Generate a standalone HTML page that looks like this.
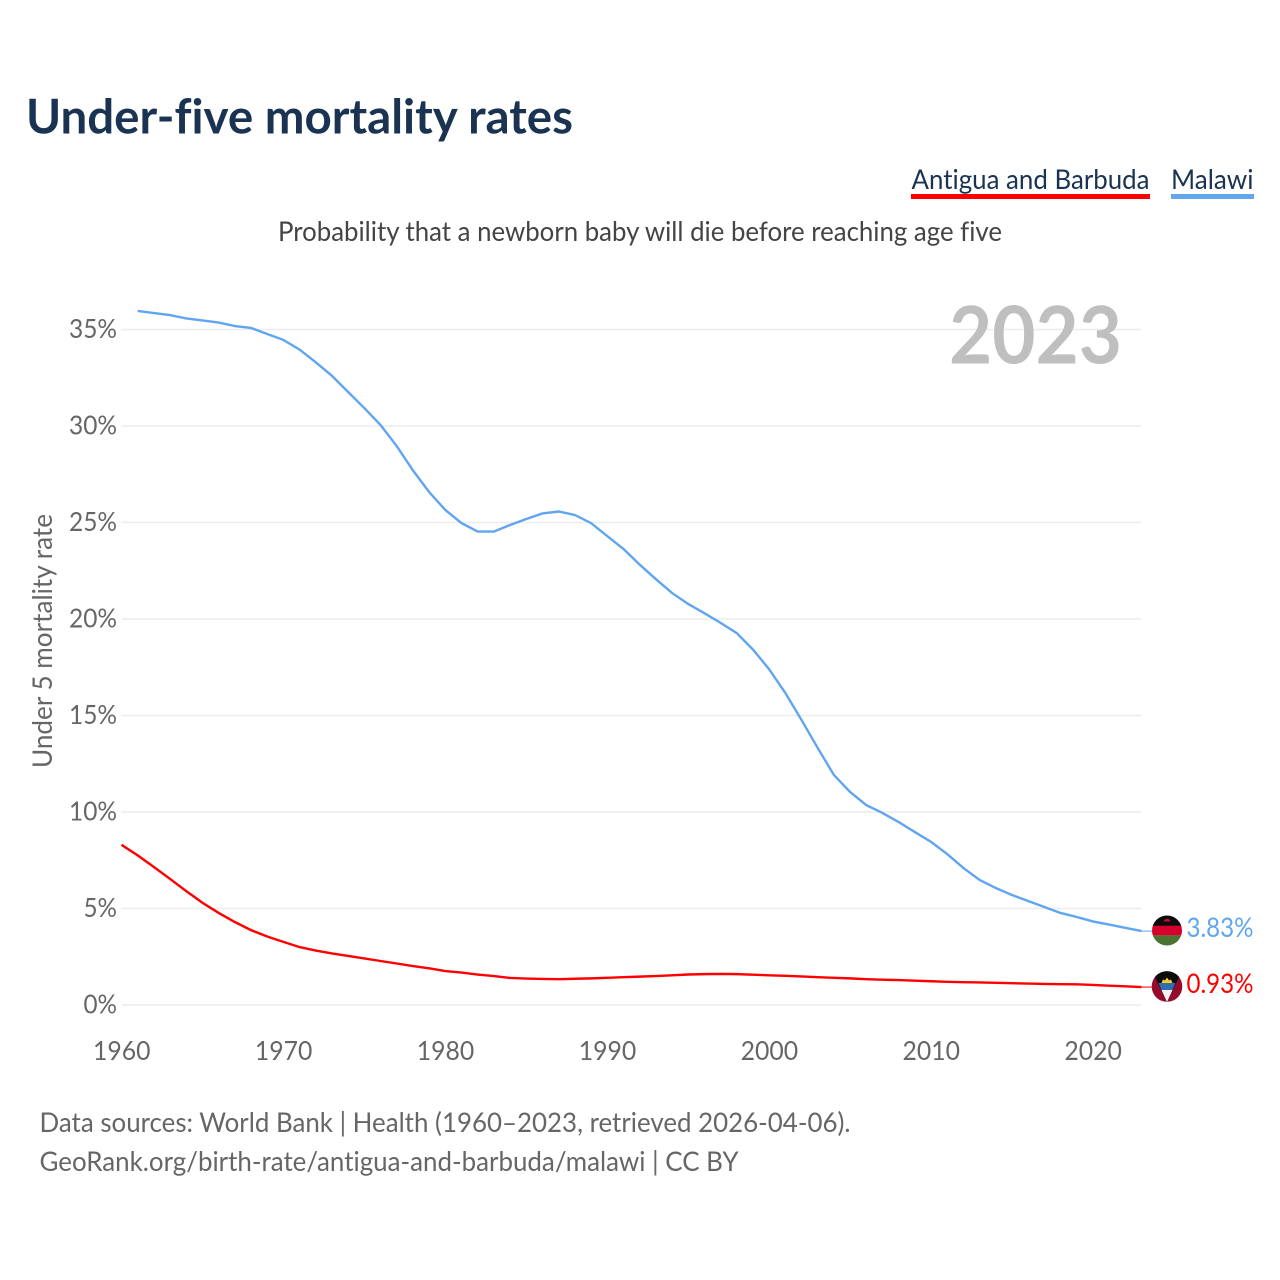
<!DOCTYPE html>
<html lang="en">
<head>
<meta charset="utf-8">
<title>Under-five mortality rates</title>
<style>
html,body{margin:0;padding:0;background:#fff;width:1280px;height:1280px;overflow:hidden}
svg{display:block}
text{font-family:"Lato","Carlito","Liberation Sans",sans-serif;font-variant-ligatures:none}
</style>
</head>
<body>
<svg id="chart" xmlns="http://www.w3.org/2000/svg" width="1280" height="1280" viewBox="0 0 1280 1280">
  <rect width="1280" height="1280" fill="#ffffff"/>
  <text x="26" y="133.500" font-size="48" font-weight="700" fill="#1a3352" textLength="547" lengthAdjust="spacingAndGlyphs">Under-five mortality rates</text>
  <g>
    <g>
      <text x="911.500" y="189" font-size="27.500" fill="#1a3352" textLength="238" lengthAdjust="spacingAndGlyphs">Antigua and Barbuda</text>
      <rect x="911" y="194" width="239" height="5" fill="#ff0000"/>
    </g>
    <g>
      <text x="1171" y="189" font-size="27.500" fill="#1a3352" textLength="82.500" lengthAdjust="spacingAndGlyphs">Malawi</text>
      <rect x="1171" y="194" width="83" height="5" fill="#63a6ec"/>
    </g>
  </g>
  <text x="278" y="241" font-size="27.500" fill="#444444" textLength="724" lengthAdjust="spacingAndGlyphs">Probability that a newborn baby will die before reaching age five</text>
  <g id="grid"></g>
  <g id="yticks"></g>
  <g id="xticks"></g>
  <text x="949" y="363.500" font-size="80" font-weight="700" fill="#bfbfbf" textLength="173" lengthAdjust="spacingAndGlyphs">2023</text>
  <text transform="translate(52,768) rotate(-90)" font-size="27" fill="#666666" textLength="254" lengthAdjust="spacingAndGlyphs">Under 5 mortality rate</text>
  <g id="series"></g>
  <defs>
    <clipPath id="clip-malawi"><circle cx="1167" cy="930.500" r="15"/></clipPath>
    <clipPath id="clip-antigua"><circle cx="1167" cy="986.500" r="15.300"/></clipPath>
  </defs>
  <g clip-path="url(#clip-malawi)">
    <rect x="1150" y="915" width="34" height="11" fill="#0c0c0c"/>
    <rect x="1150" y="925.700" width="34" height="9.700" fill="#d6002c"/>
    <rect x="1150" y="935.400" width="34" height="11" fill="#4b7231"/>
    <path d="M1164 921.500 a3.200 2.800 0 0 1 6.400 0z" fill="#c8102e"/>
  </g>
  <g clip-path="url(#clip-antigua)">
    <rect x="1150" y="970" width="34" height="34" fill="#960a2c"/>
    <path d="M1152 971 H1182 L1167 1002z" fill="#0c0c0c"/>
    <path d="M1158.500 983 H1175.500 L1172.500 990 H1161.500z" fill="#2f6db5"/>
    <path d="M1161.500 990 H1172.500 L1167 1002z" fill="#f2f2f2"/>
    <path d="M1161.500 983 L1163 979.500 L1165 980.500 L1167 977.500 L1169 980.500 L1171 979.500 L1172.500 983z" fill="#fcd116"/>
  </g>
  <text x="1186.500" y="937" font-size="27" fill="#60a5f0" textLength="67" lengthAdjust="spacingAndGlyphs">3.83%</text>
  <text x="1186.500" y="993" font-size="27" fill="#ff0000" textLength="67" lengthAdjust="spacingAndGlyphs">0.93%</text>
  <text x="39.500" y="1132" font-size="27.500" fill="#666666" textLength="811" lengthAdjust="spacingAndGlyphs">Data sources: World Bank | Health (1960–2023, retrieved 2026-04-06).</text>
  <text x="39.500" y="1171" font-size="27.500" fill="#666666" textLength="699" lengthAdjust="spacingAndGlyphs">GeoRank.org/birth-rate/antigua-and-barbuda/malawi | CC BY</text>
</svg>
<script>
const yTicks = [0, 5, 10, 15, 20, 25, 30, 35];
const xTicks = [1960, 1970, 1980, 1990, 2000, 2010, 2020];
const malawiStartYear = 1961;
const malawiValues = [35.96,35.85,35.75,35.57,35.47,35.36,35.18,35.08,34.77,34.46,33.96,33.3,32.6,31.76,30.93,30.05,28.96,27.7,26.58,25.65,24.97,24.53,24.53,24.87,25.18,25.47,25.57,25.39,24.97,24.3,23.63,22.82,22.07,21.35,20.78,20.3,19.8,19.27,18.42,17.4,16.17,14.77,13.32,11.92,11.04,10.36,9.95,9.48,8.96,8.45,7.82,7.1,6.48,6.06,5.7,5.39,5.08,4.77,4.56,4.33,4.17,4.0,3.83];
const antiguaStartYear = 1960;
const antiguaValues = [8.3,7.75,7.15,6.53,5.9,5.3,4.77,4.3,3.88,3.55,3.27,3.0,2.82,2.67,2.54,2.41,2.28,2.15,2.02,1.9,1.76,1.68,1.58,1.5,1.4,1.37,1.35,1.34,1.36,1.38,1.41,1.44,1.47,1.5,1.54,1.58,1.6,1.61,1.6,1.57,1.54,1.51,1.48,1.44,1.41,1.38,1.34,1.31,1.29,1.26,1.23,1.2,1.18,1.17,1.15,1.13,1.11,1.09,1.08,1.07,1.04,1.0,0.97,0.93];

const SVG_NS = 'http://www.w3.org/2000/svg';
const plotLeft = 121.5, plotRight = 1141.5, yearMin = 1960, yearMax = 2023;
const yZero = 1005, pxPerUnit = 19.3;
function xScale(year) { return plotLeft + (year - yearMin) * (plotRight - plotLeft) / (yearMax - yearMin); }
function yScale(value) { return yZero - value * pxPerUnit; }

const gridGroup = document.getElementById('grid');
const yGroup = document.getElementById('yticks');
const xGroup = document.getElementById('xticks');
const seriesGroup = document.getElementById('series');

yTicks.forEach(function (t) {
  const line = document.createElementNS(SVG_NS, 'line');
  
  
  line.setAttribute('x1', plotLeft);
  line.setAttribute('x2', plotRight);
  line.setAttribute('y1', yScale(t));
  line.setAttribute('y2', yScale(t));
  line.setAttribute('stroke', '#ececec');
  line.setAttribute('stroke-width', '1.6');
  gridGroup.appendChild(line);

  const label = document.createElementNS(SVG_NS, 'text');
  
  
  const str = t + '%';
  const w = (str.length - 1) * 14.5 + 19;
  label.setAttribute('x', 117 - w);
  label.setAttribute('y', yScale(t) + 8.5);
  label.setAttribute('font-size', '26.5');
  label.setAttribute('fill', '#666666');
  label.setAttribute('textLength', w);
  label.setAttribute('lengthAdjust', 'spacingAndGlyphs');
  label.textContent = str;
  yGroup.appendChild(label);
});

xTicks.forEach(function (t) {
  const label = document.createElementNS(SVG_NS, 'text');
  
  
  label.setAttribute('x', xScale(t) - 28.5);
  label.setAttribute('y', 1060);
  label.setAttribute('font-size', '26.5');
  label.setAttribute('fill', '#666666');
  label.setAttribute('textLength', '57.5');
  label.setAttribute('lengthAdjust', 'spacingAndGlyphs');
  label.textContent = String(t);
  xGroup.appendChild(label);
});

function pathFor(values, startYear) {
  return values.map(function (v, i) {
    return xScale(startYear + i).toFixed(2) + ',' + yScale(v).toFixed(2);
  }).join(' ');
}

const malawiLine = document.createElementNS(SVG_NS, 'polyline');


malawiLine.setAttribute('points', pathFor(malawiValues, malawiStartYear));
malawiLine.setAttribute('fill', 'none');
malawiLine.setAttribute('stroke', '#60a5f0');
malawiLine.setAttribute('stroke-width', '2.4');
seriesGroup.appendChild(malawiLine);

const antiguaLine = document.createElementNS(SVG_NS, 'polyline');


antiguaLine.setAttribute('points', pathFor(antiguaValues, antiguaStartYear));
antiguaLine.setAttribute('fill', 'none');
antiguaLine.setAttribute('stroke', '#ff0000');
antiguaLine.setAttribute('stroke-width', '2.4');
seriesGroup.appendChild(antiguaLine);

const malawiLeader = document.createElementNS(SVG_NS, 'line');


malawiLeader.setAttribute('x1', plotRight);
malawiLeader.setAttribute('x2', 1152);
malawiLeader.setAttribute('y1', yScale(malawiValues[malawiValues.length - 1]));
malawiLeader.setAttribute('y2', yScale(malawiValues[malawiValues.length - 1]));
malawiLeader.setAttribute('stroke', '#60a5f0');
malawiLeader.setAttribute('stroke-width', '1');
seriesGroup.appendChild(malawiLeader);

const antiguaLeader = document.createElementNS(SVG_NS, 'line');


antiguaLeader.setAttribute('x1', plotRight);
antiguaLeader.setAttribute('x2', 1152);
antiguaLeader.setAttribute('y1', yScale(antiguaValues[antiguaValues.length - 1]));
antiguaLeader.setAttribute('y2', yScale(antiguaValues[antiguaValues.length - 1]));
antiguaLeader.setAttribute('stroke', '#ff0000');
antiguaLeader.setAttribute('stroke-width', '1');
seriesGroup.appendChild(antiguaLeader);
</script>
</body>
</html>
